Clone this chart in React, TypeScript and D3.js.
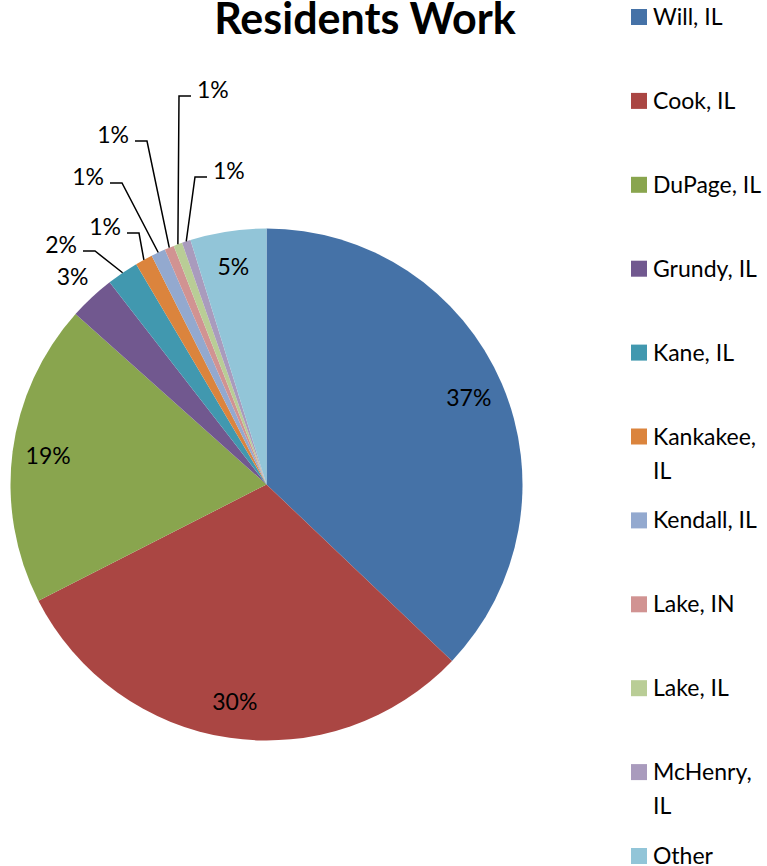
import React from 'react';
import * as d3 from 'd3';

// data (shares in %)
const counties = ['Will, IL', 'Cook, IL', 'DuPage, IL', 'Grundy, IL', 'Kane, IL', 'Kankakee, IL',
    'Kendall, IL', 'Lake, IN', 'Lake, IL', 'McHenry, IL', 'Other'];
const shares = [37.1, 30.4, 19.1, 2.9, 2.0, 1.1, 0.9, 0.6, 0.55, 0.55, 4.8];
const colors = ['#4572A7', '#AA4643', '#89A54E', '#71588F', '#4198AF', '#DB843D',
    '#93A9CF', '#D19392', '#B9CD96', '#A99BBD', '#92C5D8'];

// legend entries that wrap onto two lines
const wrapped = new Set(['Kankakee, IL', 'McHenry, IL']);

// label placement: which slices get an inside label, and the elbow of each callout
const insideLabels = new Set([0, 1, 2, 10]);
const callouts: Record<number, { elbow: [number, number]; dir: number }> = {
    4: { elbow: [95, 251], dir: -1 },
    5: { elbow: [139, 233], dir: -1 },
    6: { elbow: [122, 183], dir: -1 },
    7: { elbow: [147, 141], dir: -1 },
    8: { elbow: [179, 96], dir: 1 },
    9: { elbow: [195, 177], dir: 1 },
};

const width = 767;
const height = 866;
const cx = 266.5;
const cy = 484.5;
const radius = 256;
const font = 'Lato, "Open Sans", sans-serif';

const App = () => {
    const total = d3.sum(shares);
    const pie = d3.pie<number>().sort(null).value(d => d);
    const arcs = pie(shares);

    const arc = d3.arc<d3.PieArcDatum<number>>().innerRadius(0).outerRadius(radius);
    const inArc = d3.arc<d3.PieArcDatum<number>>().innerRadius(radius * 0.86).outerRadius(radius * 0.86);
    const edgeArc = d3.arc<d3.PieArcDatum<number>>().innerRadius(radius).outerRadius(radius);
    const outArc = d3.arc<d3.PieArcDatum<number>>().innerRadius(radius * 1.11).outerRadius(radius * 1.11);

    const pct = (v: number) => Math.round((v / total) * 100) + '%';

    const legendY = d3.scaleLinear().domain([0, counties.length - 1]).range([17, 856]);

    return (
        <svg width={width} height={height} style={{ position: 'absolute', left: 0, top: 0 }}
            fontFamily={font}>
            <rect width={width} height={height} fill="#fff" />
            <text x={365} y={34} textAnchor="middle" fontSize={43} fontWeight="bold" fill="#000">
                Residents Work
            </text>

            <g transform={`translate(${cx},${cy})`}>
                {arcs.map((a, i) => (
                    <path key={i} d={arc(a) || ''} fill={colors[i]} />
                ))}
            </g>

            <g fontSize={23} fill="#000">
                {arcs.map((a, i) => {
                    if (insideLabels.has(i)) {
                        const [x, y] = inArc.centroid(a);
                        return <text key={i} x={cx + x} y={cy + y} textAnchor="middle" dy="0.35em">{pct(shares[i])}</text>;
                    }
                    const c = callouts[i];
                    if (c) {
                        const [ex, ey] = edgeArc.centroid(a);
                        const [bx, by] = c.elbow;
                        const endX = bx + c.dir * 12;
                        return (
                            <g key={i}>
                                <polyline points={`${cx + ex},${cy + ey} ${bx},${by} ${endX},${by}`}
                                    fill="none" stroke="#000" strokeWidth={1.5} />
                                <text x={endX + c.dir * 6} y={by - 6} dy="0.35em"
                                    textAnchor={c.dir < 0 ? 'end' : 'start'}>{pct(shares[i])}</text>
                            </g>
                        );
                    }
                    const [x, y] = outArc.centroid(a);
                    return <text key={i} x={cx + x} y={cy + y} textAnchor="middle" dy="0.35em">{pct(shares[i])}</text>;
                })}
            </g>

            <g fontSize={23} fill="#000">
                {counties.map((name, i) => {
                    const y = legendY(i);
                    const lines = wrapped.has(name) ? name.split(' ') : [name];
                    return (
                        <g key={name}>
                            <rect x={631} y={y - 8} width={16} height={16} fill={colors[i]} />
                            {lines.map((t, j) => (
                                <text key={j} x={653} y={y + j * 34} dy="0.35em">{t}</text>
                            ))}
                        </g>
                    );
                })}
            </g>
        </svg>
    );
};

export default App;
